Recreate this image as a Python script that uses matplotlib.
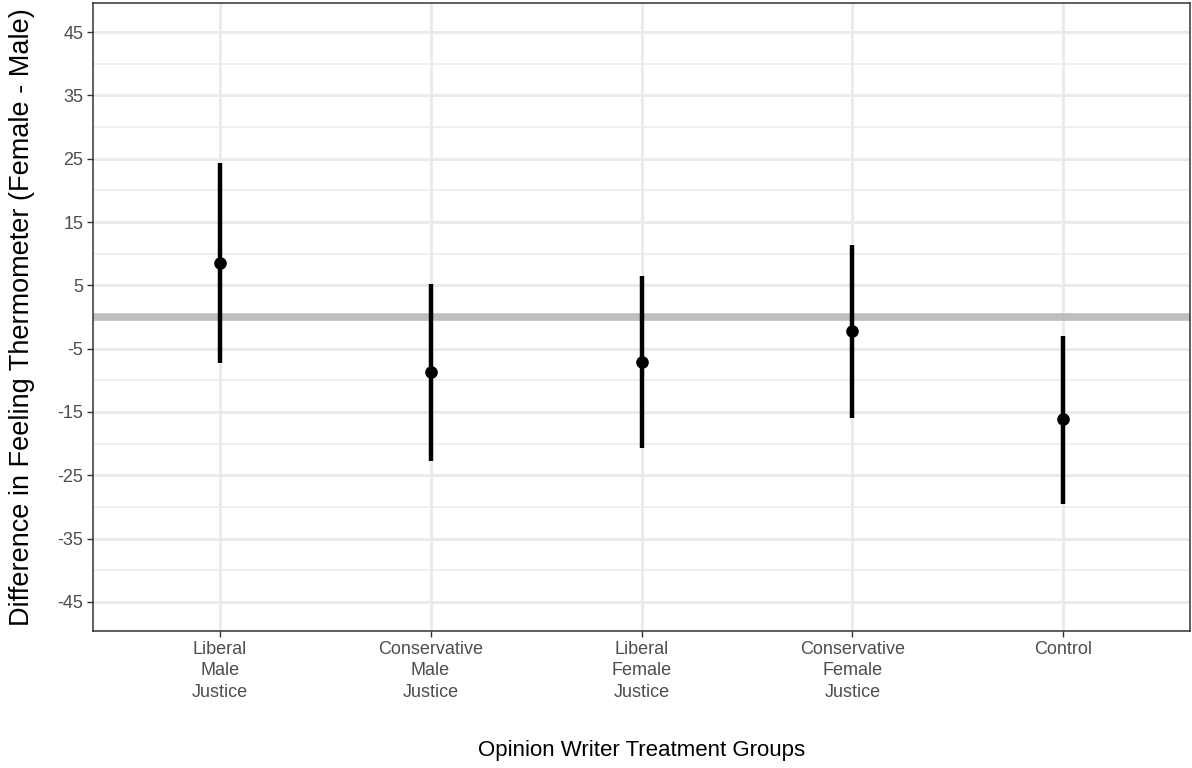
import matplotlib
matplotlib.use("Agg")
import matplotlib.pyplot as plt

groups = ["Liberal\nMale\nJustice", "Conservative\nMale\nJustice",
          "Liberal\nFemale\nJustice", "Conservative\nFemale\nJustice", "Control"]
estimate = [8.5, -8.7, -7.1, -2.2, -16.1]
lower = [-7.3, -22.7, -20.7, -15.9, -29.5]
upper = [24.3, 5.2, 6.5, 11.4, -3.0]
yticks = [-45, -35, -25, -15, -5, 5, 15, 25, 35, 45]

font = "Liberation Sans"

fig = plt.figure(figsize=(11.92, 7.68), dpi=100)
ax = fig.add_axes([93 / 1192, 1 - 631 / 768, 1097 / 1192, 628 / 768])

x = list(range(1, len(groups) + 1))

# grid, ggplot theme_bw style
for v in range(-40, 50, 10):
    ax.axhline(v, color="#ebebeb", lw=1.1, zorder=0)
for v in yticks:
    ax.axhline(v, color="#ebebeb", lw=2.2, zorder=0)
for xi in x:
    ax.axvline(xi, color="#ebebeb", lw=2.2, zorder=0)

ax.axhline(0, color="#bebebe", lw=5.5, zorder=1)
ax.vlines(x, lower, upper, color="black", lw=3.2, zorder=2)
ax.scatter(x, estimate, s=65, color="black", zorder=3)

ax.set_xlim(0.4, 5.6)
ax.set_ylim(-49.6, 49.6)
ax.set_yticks(yticks)
ax.set_xticks(x)
ax.set_xticklabels(groups, fontfamily=font, fontsize=13, color="#4d4d4d",
                   linespacing=1.35)
ax.set_yticklabels([str(v) for v in yticks], fontfamily=font, fontsize=13,
                   color="#4d4d4d")
ax.tick_params(axis="both", length=4, width=1, color="#333333", pad=3)

for s in ax.spines.values():
    s.set_color("#333333")
    s.set_linewidth(1.1)

ax.set_xlabel("Opinion Writer Treatment Groups", fontfamily=font,
              fontsize=16, labelpad=28)
ax.set_ylabel("Difference in Feeling Thermometer (Female - Male)",
              fontfamily=font, fontsize=19.5, labelpad=16)

fig.savefig("out.png", dpi=100)
